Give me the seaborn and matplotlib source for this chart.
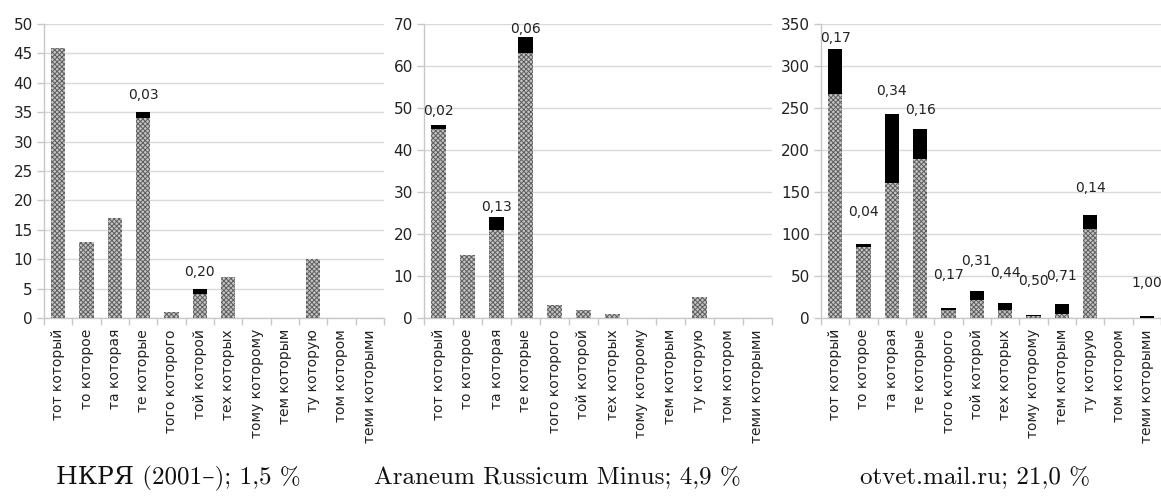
import numpy as np
import pandas as pd
import matplotlib
matplotlib.use("Agg")
import matplotlib.pyplot as plt
import seaborn as sns

categories = ["тот который", "то которое", "та которая", "те которые",
              "того которого", "той которой", "тех которых", "тому которому",
              "тем которым", "ту которую", "том котором", "теми которыми"]

# panel 1: НКРЯ
nkrya_grey = [46, 13, 17, 34, 1, 4, 7, 0, 0, 10, 0, 0]
nkrya_black = [0, 0, 0, 1, 0, 1, 0, 0, 0, 0, 0, 0]
nkrya_labels = ["", "", "", "0,03", "", "0,20", "", "", "", "", "", ""]

# panel 2: Araneum Russicum Minus
aran_grey = [45, 15, 21, 63, 3, 2, 1, 0, 0, 5, 0, 0]
aran_black = [1, 0, 3, 4, 0, 0, 0, 0, 0, 0, 0, 0]
aran_labels = ["0,02", "", "0,13", "0,06", "", "", "", "", "", "", "", ""]

# panel 3: otvet.mail.ru
otvet_grey = [267, 85, 161, 189, 10, 22, 10, 2, 5, 106, 0, 0]
otvet_black = [53, 3, 82, 36, 2, 10, 8, 2, 12, 17, 0, 2]
otvet_labels = ["0,17", "0,04", "0,34", "0,16", "0,17", "0,31", "0,44", "0,50",
                "0,71", "0,14", "", "1,00"]

captions = ["НКРЯ (2001–); 1,5 %", "Araneum Russicum Minus; 4,9 %", "otvet.mail.ru; 21,0 %"]
y_max = [50, 70, 350]
y_step = [5, 10, 50]

# label offsets above bar top (pixels) – layout only
label_offsets = [
    [0, 0, 0, 17, 0, 17, 0, 0, 0, 0, 0, 0],
    [14, 0, 10, 8, 0, 0, 0, 0, 0, 0, 0, 0],
    [11, 32, 23, 19, 33, 30, 30, 34, 28, 27, 0, 33],
]

sns.set_theme(style="white")
plt.rcParams["font.family"] = ["DejaVu Sans"]
plt.rcParams["hatch.linewidth"] = 0.7

W, H = 1161, 497
fig = plt.figure(figsize=(W / 100, H / 100), dpi=100)

panels = [(44, 384), (424, 772), (821, 1161)]
top_px, bot_px = 24, 318
grey_sets = [nkrya_grey, aran_grey, otvet_grey]
black_sets = [nkrya_black, aran_black, otvet_black]
label_sets = [nkrya_labels, aran_labels, otvet_labels]
caption_x = [178, 557, 975]

for i in range(3):
    l, r = panels[i]
    ax = fig.add_axes([l / W, 1 - bot_px / H, (r - l) / W, (bot_px - top_px) / H])
    grey = np.array(grey_sets[i], dtype=float)
    black = np.array(black_sets[i], dtype=float)
    total = grey + black
    df = pd.DataFrame({"cat": categories, "grey": grey, "total": total})
    sns.barplot(data=df, x="cat", y="total", color="black", width=0.5,
                saturation=1, ax=ax, linewidth=0, zorder=3)
    n_black = len(ax.patches)
    sns.barplot(data=df, x="cat", y="grey", color="#c4c4c4", width=0.5,
                saturation=1, ax=ax, linewidth=0, zorder=4)
    for p in ax.patches[n_black:]:
        p.set_hatch("xxxxxxx")
        p.set_edgecolor("#5e5e5e")
        p.set_linewidth(0)
    ax.set_ylim(0, y_max[i])
    ax.set_xlim(-0.5, len(categories) - 0.5)
    ax.set_yticks(np.arange(0, y_max[i] + 1, y_step[i]))
    ax.yaxis.grid(True, color="#d9d9d9", linewidth=1, zorder=0)
    ax.set_axisbelow(True)
    ax.set_xlabel("")
    ax.set_ylabel("")
    for s in ["top", "right"]:
        ax.spines[s].set_visible(False)
    for s in ["left", "bottom"]:
        ax.spines[s].set_color("#c8c8c8")
        ax.spines[s].set_linewidth(1)
    ax.set_xticks(np.arange(-0.5, len(categories), 1), minor=True)
    ax.tick_params(axis="x", which="major", length=0, pad=8, labelsize=10,
                   labelcolor="#222222", rotation=90)
    ax.tick_params(axis="x", which="minor", length=5, color="#c8c8c8", width=1,
                   direction="out", bottom=True)
    ax.tick_params(axis="y", length=5, color="#c8c8c8", width=1, direction="out",
                   left=True, labelsize=11, labelcolor="#222222", pad=3)
    for j, lab in enumerate(label_sets[i]):
        if lab:
            ax.annotate(lab, (j, total[j]), xytext=(0, label_offsets[i][j]),
                        textcoords="offset pixels", ha="center", va="center",
                        fontsize=10, color="#222222", zorder=6,
                        annotation_clip=False)
    fig.text(caption_x[i] / W, 1 - 478 / H, captions[i], ha="center", va="center",
             fontsize=18, family=["cmr10", "DejaVu Serif"], color="#111111")

fig.savefig("out.png", dpi=100)
